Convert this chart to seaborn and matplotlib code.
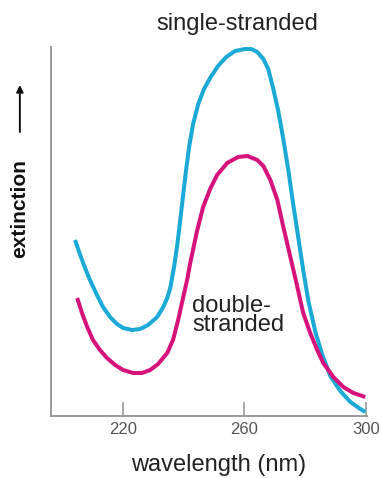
import matplotlib
matplotlib.use("Agg")
import matplotlib.pyplot as plt
from matplotlib.patches import FancyArrowPatch
import seaborn as sns
import pandas as pd

# UV absorbance of DNA (arbitrary units) against wavelength in nm
ss_wavelength = [204.3, 206.0, 207.6, 209.2, 211.5, 213.5, 215.8, 218.1, 220.1, 223.1,
                 225.7, 228.3, 231.3, 233.3, 234.6, 235.6, 236.9, 237.9, 238.8, 239.8,
                 240.8, 241.8, 243.1, 244.8, 246.7, 248.7, 251.3, 254.0, 256.9, 260.2,
                 262.2, 264.2, 266.2, 267.8, 269.4, 271.1, 272.7, 274.4, 276.0, 277.7,
                 279.3, 281.0, 283.3, 285.6, 288.2, 291.5, 294.8, 298.1, 299.7]
ss_extinction = [176, 161, 148, 136, 121, 109, 99, 92, 88, 86,
                 87, 91, 99, 109, 118, 128, 150, 171, 194, 220,
                 246, 269, 292, 312, 327, 338, 350, 359, 365, 367,
                 367, 364, 357, 347, 328, 305, 278, 246, 212, 178,
                 146, 115, 84, 61, 40, 25, 14, 7, 4]

ds_wavelength = [205.0, 206.6, 208.3, 210.2, 212.5, 214.8, 217.5, 220.1, 223.4, 226.3,
                 229.0, 231.6, 234.6, 236.5, 238.2, 239.8, 241.2, 242.1, 244.4, 246.4,
                 248.7, 251.0, 254.3, 257.9, 260.9, 264.2, 266.2, 268.5, 270.8, 272.7,
                 275.0, 277.3, 279.3, 281.6, 283.9, 285.9, 289.2, 292.5, 295.8, 299.7]
ds_extinction = [118, 103, 89, 76, 66, 58, 51, 46, 43, 43,
                 46, 52, 63, 76, 96, 118, 137, 152, 185, 209,
                 227, 241, 253, 259, 260, 256, 250, 236, 216, 190,
                 160, 130, 103, 83, 66, 53, 39, 29, 23, 19]

tick_values = [220, 260, 300]
tick_labels = ["220", "260", "300"]

ss = pd.DataFrame({"wavelength": ss_wavelength, "extinction": ss_extinction})
ds = pd.DataFrame({"wavelength": ds_wavelength, "extinction": ds_extinction})

sns.set_theme(style="white")
plt.rcParams["font.family"] = ["Liberation Sans", "DejaVu Sans"]

fig = plt.figure(figsize=(3.82, 4.78), dpi=100)
ax = fig.add_axes([0.1335, 0.1297, 0.8275, 0.772])

cyan = "#1BA9D6"
magenta = "#D6137B"
for df, col in [(ss, cyan), (ds, magenta)]:
    sns.lineplot(data=df, x="wavelength", y="extinction", ax=ax, color=col,
                 lw=2.9, solid_capstyle="butt", solid_joinstyle="round")

ax.set_xlim(196.4, 300.3)
ax.set_ylim(0, 369)
ax.set_xticks(tick_values)
ax.set_xticklabels(tick_labels, fontsize=12, color="#555555")
ax.set_yticks([])
ax.tick_params(axis="x", bottom=True, direction="in", length=10, width=1.2,
               color="#999999", pad=4)
for side in ["top", "right"]:
    ax.spines[side].set_visible(False)
for side in ["left", "bottom"]:
    ax.spines[side].set_color("#9a9a9a")
    ax.spines[side].set_linewidth(1.4)

ax.set_xlabel("")
ax.set_ylabel("")

fig.text(0.573, 0.028, "wavelength (nm)", fontsize=17, color="#222222",
         ha="center", va="center")
fig.text(0.622, 0.950, "single-stranded", fontsize=17, color="#222222",
         ha="center", va="center")
fig.text(0.503, 0.340, "double-\nstranded", fontsize=17, color="#222222",
         ha="left", va="center", linespacing=0.88)
fig.text(0.052, 0.563, "extinction", fontsize=15, color="#111111", rotation=90,
         ha="center", va="center", fontweight="bold")
fig.patches.append(FancyArrowPatch(
    (0.052, 0.718), (0.052, 0.828), transform=fig.transFigure,
    arrowstyle="-|>,head_length=4,head_width=2", color="#111111", lw=1.4))

fig.savefig("out.png", dpi=100)
